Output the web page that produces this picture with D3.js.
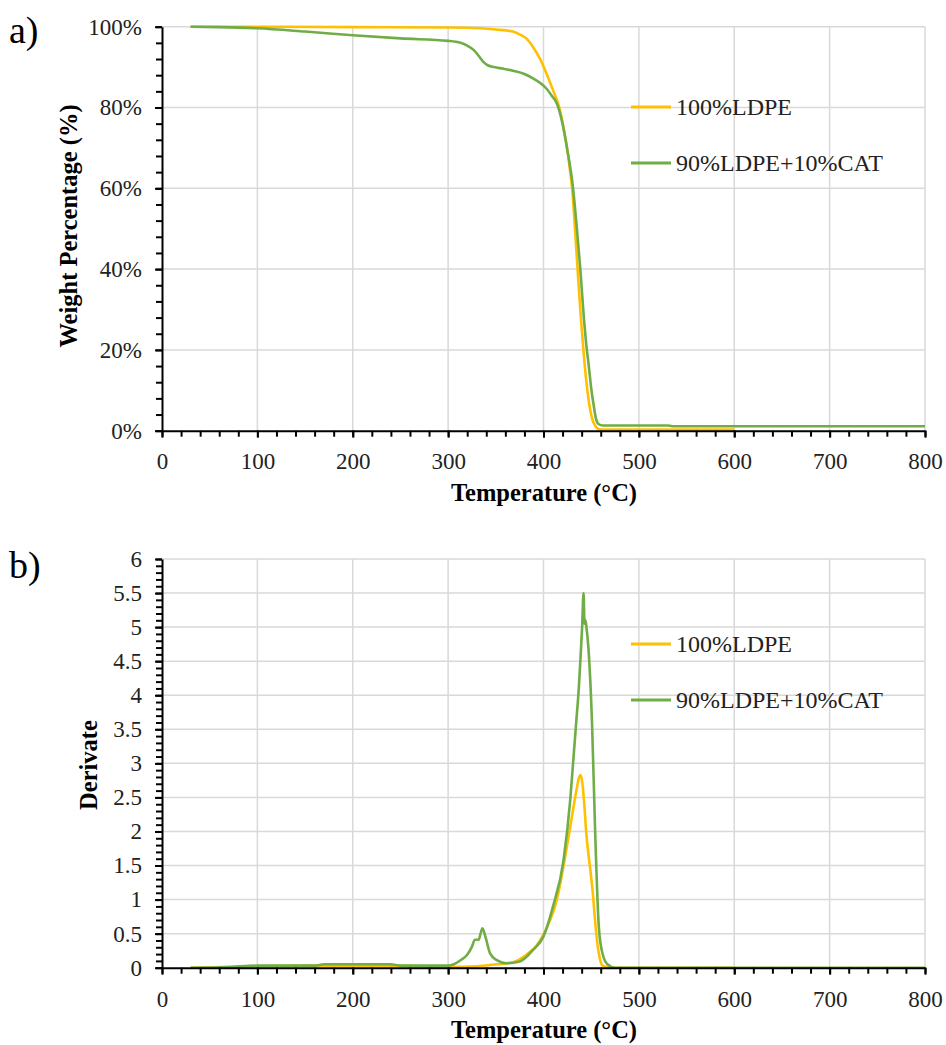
<!DOCTYPE html>
<html>
<head>
<meta charset="utf-8">
<script src="https://cdn.jsdelivr.net/npm/d3@7"></script>
<style>
  body { margin: 0; background: #fff; }
  svg text { font-family: "Liberation Serif", "Times New Roman", Times, serif; }
</style>
</head>
<body>
<div id="chart"></div>
<script>
// ---- data ----
const seriesNames = ["100%LDPE", "90%LDPE+10%CAT"];
const colors = ["#ffc000", "#70ad47"];

// a) TG curves, weight %
const tgTempLDPE = [30, 100, 200, 300, 333, 350, 368, 375, 382, 389, 396, 403, 410, 417, 421, 425, 428, 430, 433, 436, 439, 442, 445, 448, 451, 454, 457, 460, 470, 500, 600];
const tgLDPE     = [100, 100, 99.9, 99.8, 99.6, 99.3, 98.8, 98.1, 97.1, 95, 92.2, 88.5, 84.3, 79.6, 75, 69.5, 64, 60, 50, 39, 28.5, 19.5, 12, 6.5, 3, 1.3, 0.5, 0.3, 0.3, 0.3, 0.3];

const tgTempCAT = [30, 60, 100, 150, 200, 250, 300, 313, 320, 327, 332, 337, 342, 348, 358, 368, 380, 389, 397, 403, 409, 414, 419, 425, 431, 435, 438.4, 442, 445, 447.5, 450, 452.5, 455, 458, 462, 470, 500, 530, 535, 600, 700, 800];
const tgCAT     = [100, 99.9, 99.6, 98.8, 97.9, 97.1, 96.5, 96, 95.3, 94.2, 92.8, 91.3, 90.4, 90, 89.6, 89.1, 88.3, 87.2, 86, 84.7, 82.8, 81, 77, 69.5, 60, 50, 40.6, 29, 21, 16, 10.5, 6.5, 3, 1.6, 1.3, 1.3, 1.3, 1.3, 1.1, 1.1, 1.1, 1.1];

// b) derivative curves
const dtgTempLDPE = [30, 100, 170, 240, 300, 330, 351, 368, 382, 393, 403, 414, 424, 431, 435, 437, 439, 441, 443, 445, 447, 449, 452, 454, 457, 459, 462, 470, 500, 600];
const dtgLDPE     = [0, 0.02, 0.03, 0.03, 0.01, 0.02, 0.05, 0.08, 0.19, 0.33, 0.57, 1.0, 1.73, 2.32, 2.64, 2.78, 2.83, 2.68, 2.35, 1.95, 1.68, 1.45, 1.05, 0.7, 0.3, 0.14, 0.03, 0, 0, 0];

const dtgTempCAT = [30, 70, 100, 160, 170, 240, 250, 300, 306, 313, 320, 325, 328, 332, 334, 336, 339, 344, 351, 361, 375, 389, 400, 410, 421, 428, 431, 434, 437, 439, 440.5, 442, 443, 444, 445, 447, 451, 454, 458, 462, 467, 475, 500, 600, 700, 800];
const dtgCAT     = [0, 0.01, 0.03, 0.03, 0.05, 0.05, 0.03, 0.03, 0.05, 0.11, 0.19, 0.31, 0.41, 0.41, 0.5, 0.58, 0.46, 0.21, 0.11, 0.065, 0.09, 0.26, 0.46, 0.9, 1.58, 2.46, 3.0, 3.55, 4.1, 4.6, 5.0, 5.5, 5.05, 5.1, 5.0, 4.71, 3.54, 2.07, 0.6, 0.2, 0.05, 0, 0, 0, 0, 0];

const xTicks = [0, 100, 200, 300, 400, 500, 600, 700, 800];
const tgTicks = [0, 20, 40, 60, 80, 100];
const dtgTicks = [0, 0.5, 1, 1.5, 2, 2.5, 3, 3.5, 4, 4.5, 5, 5.5, 6];

const W = 946, H = 1045;
const svg = d3.select("#chart").append("svg")
  .attr("width", W).attr("height", H)
  .attr("font-family", "Liberation Serif, Times New Roman, serif");

function zip(xs, ys) { return xs.map((x, i) => [x, ys[i]]); }

function drawPanel(opt) {
  const g = svg.append("g");
  const x = d3.scaleLinear().domain([0, 800]).range([162, 925]);
  const y = d3.scaleLinear().domain(opt.domain).range([opt.bottom, opt.top]);

  // grid
  g.append("g").selectAll("line").data(xTicks.slice(1)).enter().append("line")
    .attr("x1", d => x(d)).attr("x2", d => x(d))
    .attr("y1", opt.top).attr("y2", opt.bottom)
    .attr("stroke", "#d9d9d9").attr("stroke-width", 1.5);
  g.append("g").selectAll("line").data(opt.yTicks.slice(1)).enter().append("line")
    .attr("x1", x(0)).attr("x2", x(800))
    .attr("y1", d => y(d)).attr("y2", d => y(d))
    .attr("stroke", "#d9d9d9").attr("stroke-width", 1.5);

  // lines
  const line = d3.line().x(d => x(d[0])).y(d => y(d[1])).curve(d3.curveMonotoneX);
  opt.series.forEach((s, i) => {
    g.append("path").datum(s).attr("d", line)
      .attr("fill", "none").attr("stroke", colors[i])
      .attr("stroke-width", 2.6).attr("stroke-linejoin", "round");
  });

  // minor ticks
  g.append("g").attr("transform", `translate(0,${opt.bottom})`)
    .call(d3.axisBottom(x).tickValues(d3.range(0, 801, 20)).tickSize(6).tickFormat(""))
    .call(a => a.select(".domain").remove())
    .selectAll("line").attr("stroke", "#000").attr("stroke-width", 2);
  g.append("g").attr("transform", `translate(162,0)`)
    .call(d3.axisLeft(y).tickValues(d3.range(opt.domain[0], opt.domain[1] + 1e-9, opt.minor)).tickSize(6).tickFormat(""))
    .call(a => a.select(".domain").remove())
    .selectAll("line").attr("stroke", "#000").attr("stroke-width", 2);

  // major axes
  const xa = g.append("g").attr("transform", `translate(0,${opt.bottom})`)
    .call(d3.axisBottom(x).tickValues(xTicks).tickSize(7).tickPadding(opt.xPad).tickSizeOuter(0));
  const ya = g.append("g").attr("transform", `translate(162,0)`)
    .call(d3.axisLeft(y).tickValues(opt.yTicks).tickSize(7).tickPadding(13).tickSizeOuter(0).tickFormat(opt.yFormat));
  [xa, ya].forEach(a => {
    a.attr("font-family", null);
    a.select(".domain").attr("stroke", "#000").attr("stroke-width", 2);
    a.selectAll("line").attr("stroke", "#000").attr("stroke-width", 2);
    a.selectAll("text").attr("font-size", 23).attr("fill", "#222");
  });

  // axis titles
  svg.append("text").attr("x", 544).attr("y", opt.bottom + 70)
    .attr("text-anchor", "middle").attr("font-weight", "bold").attr("font-size", 24.5)
    .text("Temperature (°C)");
  svg.append("text")
    .attr("transform", `translate(${opt.yTitleX},${opt.yTitleY}) rotate(-90)`)
    .attr("text-anchor", "middle").attr("font-weight", "bold").attr("font-size", 24.5)
    .text(opt.yTitle);

  // panel letter
  svg.append("text").attr("x", 9).attr("y", opt.top + opt.letterDy)
    .attr("font-size", 38).text(opt.letter);

  // legend
  const lg = svg.append("g");
  seriesNames.forEach((n, i) => {
    const ly = opt.legendY + i * 56;
    lg.append("line").attr("x1", 631).attr("x2", 671).attr("y1", ly).attr("y2", ly)
      .attr("stroke", colors[i]).attr("stroke-width", 3);
    lg.append("text").attr("x", 676).attr("y", ly + 8).attr("font-size", 24)
      .attr("fill", "#222").text(n);
  });
}

drawPanel({
  domain: [0, 100], top: 26.7, bottom: 430.7, yTicks: tgTicks, minor: 4,
  yFormat: d => d + "%", xPad: 15, yTitle: "Weight Percentage (%)", yTitleX: 77, yTitleY: 226,
  letter: "a)", letterDy: 16, legendY: 107,
  series: [zip(tgTempLDPE, tgLDPE), zip(tgTempCAT, tgCAT)]
});

drawPanel({
  domain: [0, 6], top: 559, bottom: 967.7, yTicks: dtgTicks, minor: 0.1,
  yFormat: d => String(d), xPad: 16, yTitle: "Derivate", yTitleX: 97, yTitleY: 765,
  letter: "b)", letterDy: 19, legendY: 644,
  series: [zip(dtgTempLDPE, dtgLDPE), zip(dtgTempCAT, dtgCAT)]
});
</script>
</body>
</html>
